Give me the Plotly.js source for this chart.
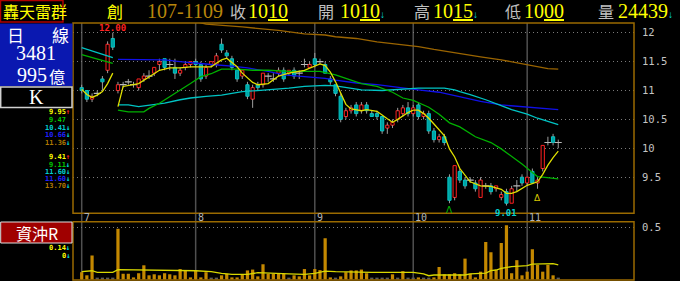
<!DOCTYPE html>
<html><head><meta charset="utf-8">
<script src="https://cdn.plot.ly/plotly-3.0.1.min.js"></script>
<style>html,body{margin:0;padding:0;background:#000;}#chart{width:680px;height:281px;}</style>
</head><body><div id="chart"></div>
<script>
// ---------- data ----------
const monthLabels = ['7','8','9','10','11'];
const monthStartIdx = [0,22,45,64,86];

const open  = [11.05,11.00,10.85,10.95,11.20,11.35,11.90,11.00,11.10,11.15, 11.10,11.05,11.20,11.25,11.30,11.45,11.55,11.45,11.40,11.30, 11.40,11.45,11.50,11.45,11.25,11.45,11.45,11.80,11.65,11.55, 11.35,11.25,11.10,10.85,11.10,11.10,11.25,11.20,11.30,11.35, 11.30,11.35,11.30,11.45,11.40,11.55,11.50,11.45,11.20,11.10, 10.90,10.55,10.65,10.75,10.65,10.75,10.60,10.60,10.55,10.35, 10.40,10.50,10.60,10.70,10.60,10.75,10.55,10.60,10.30,10.15, 10.20,9.50,9.15,9.60,9.45,9.45,9.40,9.15,9.35,9.35, 9.30,9.15,9.25,9.05,9.35,9.50,9.40,9.60,9.40,9.65, 10.10,10.20,10.10];
const high  = [11.10,11.00,10.95,11.00,11.25,11.85,12.00,11.15,11.15,11.20, 11.15,11.20,11.30,11.35,11.40,11.55,11.55,11.55,11.55,11.40, 11.50,11.50,11.55,11.50,11.45,11.50,11.65,11.90,11.70,11.60, 11.35,11.35,11.15,11.10,11.15,11.30,11.30,11.30,11.40,11.40, 11.35,11.40,11.35,11.55,11.50,11.65,11.55,11.50,11.25,11.10, 10.95,10.70,10.75,10.80,10.80,10.80,10.65,10.65,10.55,10.45, 10.50,10.70,10.75,10.80,10.75,10.80,10.65,10.65,10.35,10.25, 10.25,9.55,9.70,9.65,9.50,9.50,9.45,9.50,9.40,9.40, 9.35,9.25,9.30,9.35,9.45,9.55,9.50,9.65,9.50,10.05, 10.20,10.25,10.15];
const low   = [10.95,10.80,10.80,10.90,11.00,11.30,11.70,10.95,11.05,11.10, 11.05,11.00,11.15,11.20,11.25,11.35,11.35,11.35,11.20,11.25, 11.35,11.40,11.40,11.15,11.20,11.40,11.40,11.65,11.55,11.35, 11.15,11.20,10.85,10.70,11.00,11.05,11.15,11.15,11.25,11.15, 11.25,11.20,11.20,11.40,11.40,11.40,11.45,11.30,11.10,10.90, 10.45,10.50,10.60,10.55,10.60,10.60,10.55,10.50,10.25,10.25, 10.35,10.45,10.55,10.55,10.55,10.50,10.50,10.25,10.10,10.10, 10.05,9.05,9.10,9.40,9.30,9.40,9.25,9.15,9.30,9.20, 9.25,9.10,9.01,9.05,9.25,9.35,9.35,9.40,9.30,9.60, 10.05,10.05,10.00];
const close = [11.00,10.85,10.90,10.95,11.15,11.80,11.75,11.10,11.10,11.15, 11.10,11.20,11.25,11.25,11.40,11.50,11.40,11.45,11.30,11.35, 11.45,11.50,11.45,11.20,11.40,11.50,11.60,11.70,11.60,11.40, 11.20,11.35,10.90,11.05,11.05,11.30,11.25,11.20,11.35,11.20, 11.35,11.25,11.30,11.45,11.45,11.45,11.50,11.30,11.15,10.95, 10.50,10.65,10.70,10.60,10.75,10.65,10.55,10.55,10.30,10.40, 10.45,10.65,10.70,10.60,10.70,10.55,10.60,10.30,10.15,10.20, 10.10,9.10,9.70,9.45,9.35,9.45,9.30,9.45,9.35,9.25, 9.35,9.20,9.05,9.30,9.35,9.40,9.50,9.40,9.45,10.05, 10.10,10.10,10.10];

// moving-average lines (null = break)
const ma5Idx = [0,1,2,3,4,5,6,null,7,8,11,13,15,17,19,21,23,25,26,27,28,29,30,31,32,33,34,36,38,40,43,45,46,47,48,49,50,51,52,54,55,57,59,60,61,63,64,65,66,67,68,70,71,72,73,75,77,79,81,82,83,84,86,88,89,90,91,92];
const ma5Val = [11.02,10.93,10.88,10.92,10.98,11.12,11.30,null,10.72,11.07,11.12,11.24,11.35,11.39,11.39,11.41,11.41,11.41,11.47,11.53,11.56,11.49,11.41,11.30,11.22,11.14,11.10,11.12,11.25,11.30,11.35,11.42,11.46,11.43,11.32,11.15,10.95,10.76,10.68,10.65,10.67,10.64,10.51,10.45,10.50,10.62,10.66,10.66,10.60,10.52,10.42,10.22,9.99,9.85,9.65,9.42,9.35,9.34,9.29,9.22,9.22,9.25,9.36,9.42,9.55,9.71,9.84,9.95];
const ma10Idx = [0,3,6,null,7,9,12,13,15,17,19,21,23,25,26,27,30,33,36,40,46,49,52,54,57,60,62,64,67,69,71,73,76,79,81,83,85,87,88,89,92];
const ma10Val = [11.62,11.55,11.47,null,10.66,10.63,10.63,10.69,10.78,10.89,11.01,11.12,11.24,11.29,11.33,11.37,11.37,11.35,11.35,11.33,11.33,11.27,11.18,11.12,11.07,10.97,10.87,10.83,10.71,10.59,10.44,10.37,10.20,10.10,9.99,9.86,9.73,9.58,9.51,9.50,9.47];
const ma20Idx = [0,6,null,7,9,11,14,16,19,21,24,27,31,34,38,40,43,45,47,49,52,54,58,61,65,70,72,73,75,78,81,83,86,88,92];
const ma20Val = [11.74,11.57,null,10.75,10.75,10.72,10.75,10.78,10.84,10.87,10.90,10.92,10.98,11.00,11.02,11.04,11.07,11.08,11.09,11.08,11.04,11.01,11.00,11.02,11.04,11.04,11.01,10.98,10.93,10.84,10.74,10.67,10.59,10.52,10.41];
const ma60Idx = [7,12,16,19,22,25,29,32,36,39,43,47,49,53,57,61,65,69,72,74,77,81,86,92];
const ma60Val = [11.54,11.54,11.53,11.50,11.47,11.45,11.42,11.39,11.33,11.27,11.24,11.21,11.18,11.13,11.10,11.05,11.01,10.97,10.91,10.87,10.81,10.75,10.71,10.67];
const ma120Idx = [18,24,31,38,43,47,49,53,57,61,65,68,72,74,77,81,86,90,92];
const ma120Val = [12.28,12.15,12.10,12.04,11.98,11.96,11.93,11.90,11.84,11.80,11.76,11.71,11.65,11.62,11.58,11.53,11.44,11.38,11.37];

// 資沖R panel
const ratio = [0.07,0.04,0.23,0,0,0,0,0.485,0.055,0.055, 0.02,0.06,0.136,0.04,0.05,0.04,0.06,0.05,0.04,0.10, 0.087,0.02,0.087,0.02,0.07,0,0,0.04,0.055,0.02, 0.02,0.05,0.087,0.095,0.03,0.146,0.055,0.055,0.055,0.055, 0,0.04,0.03,0.10,0.04,0.10,0.09,0.395,0.02,0, 0.03,0.07,0.087,0.087,0.095,0.06,0,0,0,0, 0.05,0,0.08,0,0,0.02,0,0,0.02,0.12, 0.05,0.05,0.06,0.05,0.20,0.055,0.02,0.075,0.36,0.26, 0.09,0.35,0.52,0.06,0.185,0.04,0.075,0.29,0.14,0.075, 0.14,0.04,0];
const ratioLineIdx = [0,2,3,6,7,12,19,22,25,27,29,32,34,36,40,43,45,47,49,56,64,66,67,68,74,75,78,79,80,81,83,86,87,91,92];
const ratioLineVal = [0.075,0.084,0.069,0.069,0.095,0.091,0.091,0.084,0.075,0.058,0.050,0.050,0.065,0.059,0.053,0.050,0.059,0.081,0.075,0.069,0.069,0.053,0.036,0.043,0.043,0.053,0.062,0.084,0.091,0.107,0.123,0.132,0.148,0.152,0.140];

const priceTicks = [9.5,10,10.5,11,11.5,12];
const priceTickText = ['9.5','10','10.5','11','11.5','12'];
const ratioTicks = [0.5];
const ratioTickText = ['0.5'];

const signalUpIdx = [71];      // green caret
const signalBuyIdx = [88];     // yellow triangle

const legendTop = [['9.95','#ffff00','↑','#ff2020'],['9.47','#00c800','',''],['10.41','#00d0d0','↓','#00e0e0'],['10.66','#2020ff','↓','#00e0e0'],['11.36','#b07800','↓','#00e0e0']];
const legendBottom = [['9.41','#ffff00','↑','#ff2020'],['9.11','#00c800','↓','#00e0e0'],['11.60','#00d0d0','↓','#00e0e0'],['11.60','#2020ff','↓','#00e0e0'],['13.70','#b07800','↓','#00e0e0']];
const legendRatio = [['0.14','#ffff00','↓','#00e0e0'],['0','#ffff00','↓','#00e0e0']];

// ---------- build ----------
const L = 73, R = 46, T = 23, B = 1, W = 680, H = 281;
const pw = W - L - R, ph = H - T - B;
const px = x => (x - L) / pw;
const py = y => (H - B - y) / ph;
const mainDom = [py(213.3), 1];
const volDom = [0, py(221.7)];

const n = open.length;
const idx = open.map((_, i) => i);
const eq = (a, b) => Math.abs(a - b) < 1e-9;

// wicks (outside the bodies)
const wx = [], wy = [];
for (let i = 0; i < n; i++) {
  const top = Math.max(open[i], close[i]), bot = Math.min(open[i], close[i]);
  if (high[i] > top + 1e-9) { wx.push(i, i, null); wy.push(top, high[i], null); }
  if (low[i] < bot - 1e-9) { wx.push(i, i, null); wy.push(low[i], bot, null); }
}
const upI = idx.filter(i => close[i] > open[i] && !eq(close[i], open[i]));
const dnI = idx.filter(i => close[i] < open[i] && !eq(close[i], open[i]));
const djI = idx.filter(i => eq(close[i], open[i]));

const traces = [];
traces.push({type:'scatter', mode:'lines', x:wx, y:wy, line:{color:'#9c9c9c', width:1}, xaxis:'x', yaxis:'y'});
traces.push({type:'bar', x:upI, base:upI.map(i=>open[i]), y:upI.map(i=>close[i]-open[i]), width:0.62,
  marker:{color:'#000000', line:{color:'#ff2020', width:1}}, xaxis:'x', yaxis:'y'});
traces.push({type:'bar', x:dnI, base:dnI.map(i=>close[i]), y:dnI.map(i=>open[i]-close[i]), width:0.62,
  marker:{color:'#00a4a4', line:{color:'#00c4c4', width:1}}, xaxis:'x', yaxis:'y'});
traces.push({type:'scatter', mode:'markers', x:djI, y:djI.map(i=>close[i]),
  marker:{symbol:'line-ew', size:5, color:'#b8b8b8', line:{color:'#b8b8b8', width:1.2}}, xaxis:'x', yaxis:'y'});

const maLine = (xs, ys, color) => ({type:'scatter', mode:'lines', x:xs, y:ys, connectgaps:false,
  line:{color:color, width:1.3}, xaxis:'x', yaxis:'y'});
traces.push(maLine(ma120Idx, ma120Val, '#9a6400'));
traces.push(maLine(ma60Idx, ma60Val, '#1010e8'));
traces.push(maLine(ma20Idx, ma20Val, '#00c4c4'));
traces.push(maLine(ma10Idx, ma10Val, '#00b000'));
traces.push(maLine(ma5Idx, ma5Val, '#e0e000'));

// ratio panel
const posI = idx.filter(i => ratio[i] > 0), zeroI = idx.filter(i => ratio[i] <= 0);
traces.push({type:'bar', x:posI, y:posI.map(i=>ratio[i]), width:0.62, marker:{color:'#c48800', line:{width:0}}, xaxis:'x', yaxis:'y2'});
traces.push({type:'bar', x:zeroI, y:zeroI.map(()=>0.018), width:0.62, marker:{color:'#5c5c5c', line:{width:0}}, xaxis:'x', yaxis:'y2'});
traces.push({type:'scatter', mode:'lines', x:ratioLineIdx, y:ratioLineVal, line:{color:'#d8d800', width:1.3}, xaxis:'x', yaxis:'y2'});

// ---------- shapes ----------
const frame = '#9a6a00';
const shapes = [];
shapes.push({type:'rect', xref:'paper', yref:'paper', x0:0, x1:1, y0:mainDom[0], y1:1, line:{color:frame, width:1.5}, layer:'above'});
shapes.push({type:'rect', xref:'paper', yref:'paper', x0:0, x1:1, y0:0, y1:volDom[1], line:{color:frame, width:1.5}, layer:'above'});
monthStartIdx.forEach(m => shapes.push({type:'line', xref:'x', yref:'paper', x0:m, x1:m, y0:0, y1:1, line:{color:'#505050', width:1.5}, layer:'below'}));
// header / side boxes
shapes.push({type:'rect', xref:'paper', yref:'paper', x0:px(0.5), x1:px(63), y0:py(0.5), y1:py(22), line:{color:'#b00000', width:1.5}});
shapes.push({type:'rect', xref:'paper', yref:'paper', x0:px(0), x1:px(72.5), y0:py(86), y1:py(23.5), fillcolor:'#0a18b0', line:{width:0}});
shapes.push({type:'rect', xref:'paper', yref:'paper', x0:px(0.7), x1:px(72), y0:py(107.5), y1:py(87), fillcolor:'#000000', line:{color:'#d0d0d0', width:1.5}});
shapes.push({type:'rect', xref:'paper', yref:'paper', x0:px(0.7), x1:px(72), y0:py(243), y1:py(222), fillcolor:'#a00000', line:{color:'#e0e0e0', width:1}});

// ---------- annotations ----------
const ann = [];
const T_CJK = 'Noto Sans CJK TC';
const SERIF = 'Liberation Serif, Noto Sans CJK TC';
const MONO = 'DejaVu Sans Mono';
function t(text, x, y, font, size, color, anchor) {
  ann.push({text:text, xref:'paper', yref:'paper', x:px(x), y:py(y), xanchor:anchor||'left', yanchor:'middle',
    showarrow:false, borderpad:0, borderwidth:0, font:{family:font, size:size, color:color}});
}
const U = s => '<span style="text-decoration:underline">' + s + '</span>';
const C = (s, c) => '<span style="color:' + c + '">' + s + '</span>';
// header
t('轟天雷群', 3, 11.5, T_CJK, 16, '#ffff00');
t('創', 107, 11.5, T_CJK, 16, '#ffff00');
t('107-1109', 147, 11.5, SERIF, 20, '#b8860b');
t('收', 230, 11.5, T_CJK, 16, '#c0c0c0');
t('10' + U('10'), 248, 11.5, SERIF, 20, '#ffff00');
t('開', 318, 11.5, T_CJK, 16, '#c0c0c0');
t('10' + U('10') + C('<span style="font-size:10px">↓</span>', '#00e0e0'), 340, 11.5, SERIF, 20, '#ffff00');
t('高', 414, 11.5, T_CJK, 16, '#c0c0c0');
t('10' + U('15') + C('<span style="font-size:10px">↓</span>', '#00e0e0'), 433, 11.5, SERIF, 20, '#ffff00');
t('低', 505, 11.5, T_CJK, 16, '#c0c0c0');
t('10' + U('00'), 524, 11.5, SERIF, 20, '#ffff00');
t('量', 598, 11.5, T_CJK, 16, '#c0c0c0');
t('24439' + C('<span style="font-size:10px">↓</span>', '#00e0e0'), 618, 11.5, SERIF, 20, '#ffff00');
// side panel
t('日', 15.5, 34.5, T_CJK, 17, '#ffffff', 'center');
t('線', 60, 34.5, T_CJK, 17, '#ffffff', 'center');
t('3481', 36, 53, SERIF, 20, '#ffffff', 'center');
t('995', 47, 75.3, SERIF, 20, '#ffffff', 'right');
t('億', 57, 75.7, T_CJK, 16, '#ffffff', 'center');
t('K', 36, 97.5, SERIF, 20, '#ffffff', 'center');
t('資沖R', 37, 232.5, T_CJK, 16, '#ffffff', 'center');
function legend(rows, y0, step) {
  rows.forEach((r, k) => {
    const y = y0 + k * step;
    const arrow = r[2] ? C(r[2], r[3]) : '<span style="color:#000000">↓</span>';
    t('<b>' + r[0] + arrow + '</b>', 69.5, y, MONO, 7, r[1], 'right');
  });
}
legend(legendTop, 111.7, 7.9);
legend(legendBottom, 157.3, 7.2);
legend(legendRatio, 247.7, 8);
// month labels
monthStartIdx.forEach((m, k) => ann.push({text:monthLabels[k], xref:'x', yref:'paper', x:m, y:py(217.3), xanchor:'left', yanchor:'middle',
  xshift:1, showarrow:false, borderpad:0, font:{family:MONO, size:10, color:'#b4b4b4'}}));
// extreme labels
let hiI = 0, loI = 0;
for (let i = 0; i < n; i++) { if (high[i] > high[hiI]) hiI = i; if (low[i] < low[loI]) loI = i; }
ann.push({text:'<b>' + high[hiI].toFixed(2) + '</b>', xref:'x', yref:'y', x:hiI, y:high[hiI], xanchor:'center', yanchor:'bottom', yshift:-1,
  showarrow:false, borderpad:0, font:{family:MONO, size:9, color:'#ff2020'}});
ann.push({text:'<b>' + low[loI].toFixed(2) + '</b>', xref:'x', yref:'y', x:loI, y:low[loI], xanchor:'center', yanchor:'top', yshift:-1,
  showarrow:false, borderpad:0, font:{family:MONO, size:9, color:'#00d0d0'}});
signalUpIdx.forEach(i => ann.push({text:'Λ', xref:'x', yref:'y', x:i, y:low[i], xanchor:'center', yanchor:'top', yshift:-1,
  showarrow:false, borderpad:0, font:{family:'DejaVu Sans', size:9, color:'#00c000'}}));
signalBuyIdx.forEach(i => ann.push({text:'Δ', xref:'x', yref:'y', x:i, y:low[i], xanchor:'center', yanchor:'top', yshift:-3,
  showarrow:false, borderpad:0, font:{family:'DejaVu Sans', size:9, color:'#d8c800'}}));

// ---------- layout ----------
const axFont = {family:MONO, size:10.5, color:'#c4c4c4'};
const layout = {
  width:W, height:H, margin:{l:L, r:R, t:T, b:B, pad:0},
  paper_bgcolor:'#000000', plot_bgcolor:'#000000',
  showlegend:false, barmode:'overlay', hovermode:false,
  xaxis:{range:[(L-81.7)/5.18, (W-R-81.7)/5.18], showgrid:false, zeroline:false, showticklabels:false, ticks:'', showline:false, anchor:'y2'},
  yaxis:{domain:mainDom, range:[12-(213.3-32.7)/57.8, 12+(32.7-T)/57.8], side:'right', tickvals:priceTicks, ticktext:priceTickText,
    showgrid:true, gridcolor:'#7a7a7a', griddash:'1px,3px', gridwidth:1, zeroline:false, ticks:'', showline:false,
    tickfont:axFont, ticklabelstandoff:7},
  yaxis2:{domain:volDom, range:[-0.0048, 0.5536], side:'right', tickvals:ratioTicks, ticktext:ratioTickText,
    showgrid:true, gridcolor:'#7a7a7a', griddash:'1px,3px', gridwidth:1, zeroline:false, ticks:'', showline:false,
    tickfont:axFont, ticklabelstandoff:7},
  shapes:shapes, annotations:ann
};
Plotly.newPlot('chart', traces, layout, {staticPlot:true, displayModeBar:false});
</script>
</body></html>
